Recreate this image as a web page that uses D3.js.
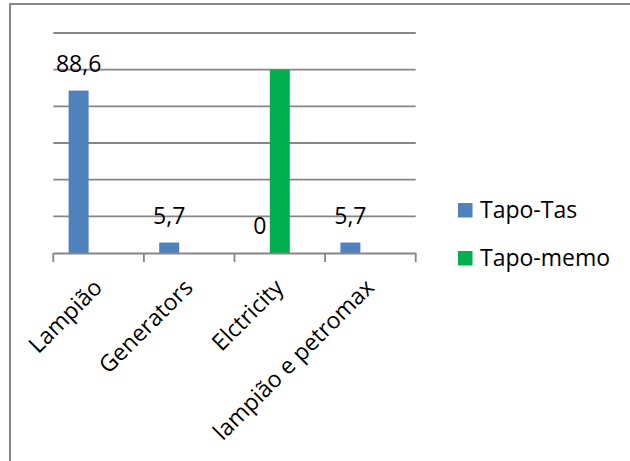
<!DOCTYPE html>
<html>
<head>
<meta charset="utf-8">
<script src="https://cdn.jsdelivr.net/npm/d3@7"></script>
<style>
  html, body { margin: 0; padding: 0; background: #fff; }
  svg { display: block; font-family: "Open Sans", sans-serif; }
</style>
</head>
<body>
<svg id="chart" width="630" height="461"></svg>
<script>
// chart data
const categories = ["Lampião", "Generators", "Elctricity", "lampião e petromax"];
const seriesNames = ["Tapo-Tas", "Tapo-memo"];
const tapoTas = [88.6, 5.7, 0, 5.7];
const tapoMemo = [null, null, 100, null];
const gridTicks = [20, 40, 60, 80, 100, 120];
const colors = { "Tapo-Tas": "#4F81BD", "Tapo-memo": "#00B050" };

const svg = d3.select("#chart");

// outer frame (only top and left edges show)
svg.append("path")
  .attr("d", "M10,461 V4 H630")
  .attr("fill", "none")
  .attr("stroke", "#868686")
  .attr("stroke-width", 2);

const x = d3.scaleBand()
  .domain(categories)
  .range([53.3, 415.7]);

// Excel left room for a third (empty) series slot in every group
const xInner = d3.scaleBand()
  .domain([...seriesNames, "_"])
  .range([0, x.bandwidth()])
  .paddingOuter(0.765);

const y = d3.scaleLinear()
  .domain([0, 120])
  .range([253, 33]);

// gridlines
svg.append("g")
  .selectAll("line")
  .data(gridTicks)
  .join("line")
  .attr("x1", x.range()[0])
  .attr("x2", x.range()[1])
  .attr("y1", d => y(d))
  .attr("y2", d => y(d))
  .attr("stroke", "#868686")
  .attr("stroke-width", 1.8);

// bars
const rows = categories.map((c, i) => ({ cat: c, "Tapo-Tas": tapoTas[i], "Tapo-memo": tapoMemo[i] }));

seriesNames.forEach(s => {
  svg.append("g")
    .selectAll("rect")
    .data(rows.filter(r => r[s] != null && r[s] > 0))
    .join("rect")
    .attr("x", d => x(d.cat) + xInner(s))
    .attr("width", xInner.bandwidth())
    .attr("y", d => y(d[s]))
    .attr("height", d => y(0) - y(d[s]))
    .attr("fill", colors[s]);
});

// data labels for Tapo-Tas
svg.append("g")
  .selectAll("text")
  .data(rows)
  .join("text")
  .attr("x", d => x(d.cat) + xInner("Tapo-Tas") + xInner.bandwidth() / 2)
  .attr("y", d => y(d["Tapo-Tas"]) - 19)
  .attr("text-anchor", "middle")
  .attr("font-size", 23)
  .attr("fill", "#000")
  .text(d => String(d["Tapo-Tas"]).replace(".", ","));

// x axis
const xAxis = d3.axisBottom(x).tickSize(0).tickFormat("");
const axisG = svg.append("g")
  .attr("transform", `translate(0,${y(0)})`)
  .call(xAxis);
axisG.select(".domain")
  .attr("stroke", "#868686")
  .attr("stroke-width", 1.8);

// tick marks on category boundaries
const bounds = categories.map(c => x(c)).concat([x.range()[1]]);
svg.append("g")
  .selectAll("line")
  .data(bounds)
  .join("line")
  .attr("x1", d => d)
  .attr("x2", d => d)
  .attr("y1", y(0))
  .attr("y2", y(0) + 9)
  .attr("stroke", "#868686")
  .attr("stroke-width", 1.8);

// rotated category labels
svg.append("g")
  .selectAll("text")
  .data(categories)
  .join("text")
  .attr("transform", d => `translate(${x(d) + x.bandwidth() / 2 + 5},289) rotate(-45)`)
  .attr("text-anchor", "end")
  .attr("font-size", 23)
  .attr("fill", "#000")
  .text(d => d);

// legend
const legend = svg.append("g")
  .selectAll("g")
  .data(seriesNames)
  .join("g")
  .attr("transform", (d, i) => `translate(458,${203 + i * 48})`);

legend.append("rect")
  .attr("width", 14.5)
  .attr("height", 14.5)
  .attr("fill", d => colors[d]);

legend.append("text")
  .attr("x", 22)
  .attr("y", 15)
  .attr("font-size", 23)
  .attr("fill", "#000")
  .text(d => d);
</script>
</body>
</html>
